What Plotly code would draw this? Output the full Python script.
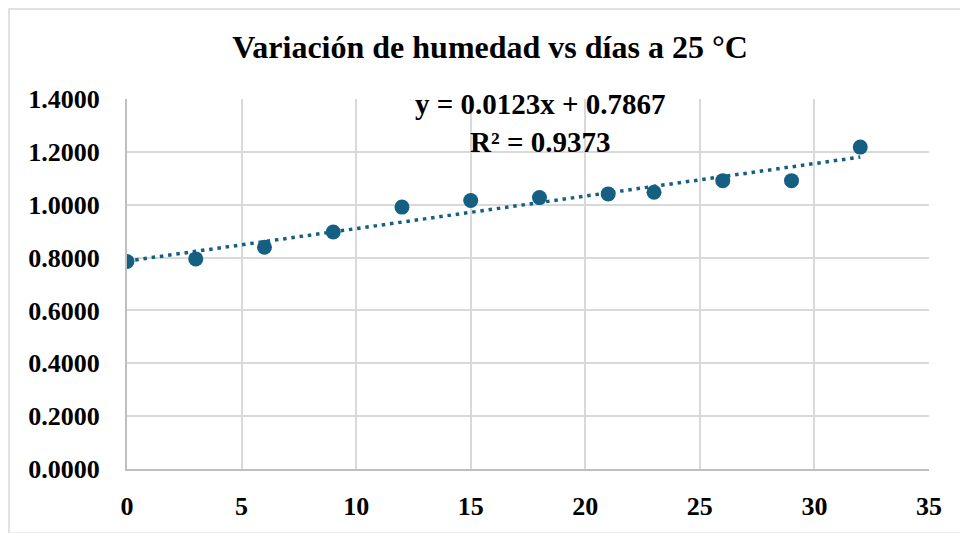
import plotly.graph_objects as go

# Humidity measurements over storage days at 25 °C
dias = [0, 3, 6, 9, 12, 15, 18, 21, 23, 26, 29, 32]
humedad = [0.785, 0.795, 0.839, 0.897, 0.991, 1.016, 1.027, 1.041, 1.047, 1.091, 1.091, 1.218]

# Linear trendline coefficients
pendiente = 0.0123
intercepto = 0.7867
r2 = 0.9373

x_ticks = [0, 5, 10, 15, 20, 25, 30, 35]
y_ticks = [0.0, 0.2, 0.4, 0.6, 0.8, 1.0, 1.2, 1.4]

COLOR = "#156082"
FONT = "Liberation Serif"

trend_x = [min(dias), max(dias)]
trend_y = [pendiente * v + intercepto for v in trend_x]

fig = go.Figure()
fig.add_trace(go.Scatter(
    x=trend_x, y=trend_y, mode="lines",
    line=dict(color=COLOR, width=3.5, dash="3.5px,4.8px"),
    hoverinfo="skip", showlegend=False,
))
fig.add_trace(go.Scatter(
    x=dias, y=humedad, mode="markers",
    marker=dict(color=COLOR, size=15, line=dict(width=0)),
    showlegend=False,
))

W, H = 960, 533
L, R, T, B = 127, 31, 99, 60
pw, ph = W - L - R, H - T - B

def px_x(p):
    return (p - L) / pw

def px_y(p):
    return (H - B - p) / ph

fig.update_layout(
    width=W, height=H,
    margin=dict(l=L, r=R, t=T, b=B),
    paper_bgcolor="white", plot_bgcolor="white",
    font=dict(family=FONT, color="black"),
    title=dict(
        text="<b>Variación de humedad vs días a 25 °C</b>",
        font=dict(family=FONT, size=32, color="black"),
        x=490 / W, xanchor="center", xref="container",
        y=1 - 47 / H, yanchor="middle", yref="container",
    ),
    xaxis=dict(
        range=[0, 35], tickvals=x_ticks, ticktext=[f"<b>{v}</b>" for v in x_ticks],
        showgrid=True, gridcolor="#d9d9d9", gridwidth=1.5,
        showline=True, linecolor="#bfbfbf", linewidth=2,
        zeroline=False, ticks="", ticklabelstandoff=13,
        tickfont=dict(family=FONT, size=26, color="black"),
        fixedrange=True,
    ),
    yaxis=dict(
        range=[0, 1.4], tickvals=y_ticks, ticktext=[f"<b>{v:.4f}</b>" for v in y_ticks],
        showgrid=True, gridcolor="#d9d9d9", gridwidth=1.5,
        showline=True, linecolor="#bfbfbf", linewidth=2,
        zeroline=False, ticks="", ticklabelstandoff=20,
        tickfont=dict(family=FONT, size=26, color="black"),
        fixedrange=True,
    ),
    annotations=[
        dict(
            text=f"<b>y = {pendiente:.4f}x + {intercepto:.4f}</b><br><b>R² = {r2:.4f}</b>",
            x=18.03, y=1.308, xref="x", yref="y",
            xanchor="center", yanchor="middle", showarrow=False,
            font=dict(family=FONT, size=29, color="black"),
            align="center",
        )
    ],
    shapes=[
        dict(
            type="rect", xref="paper", yref="paper",
            x0=px_x(9), x1=px_x(W + 5), y0=px_y(H + 5), y1=px_y(8),
            line=dict(color="#d9d9d9", width=1.5), fillcolor="rgba(0,0,0,0)",
            layer="below",
        )
    ],
)

fig.write_html("out.html")
